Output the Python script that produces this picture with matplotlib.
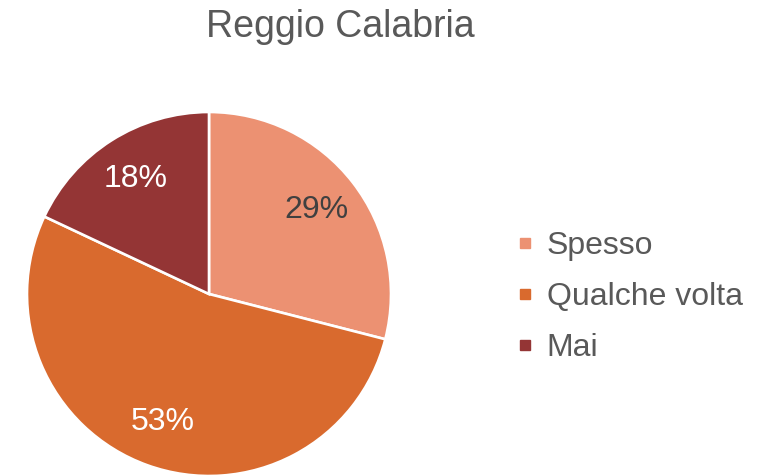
import matplotlib
matplotlib.use("Agg")
import matplotlib.pyplot as plt
from matplotlib.lines import Line2D

categories = ["Spesso", "Qualche volta", "Mai"]
values = [29, 53, 18]
colors = ["#EC9172", "#D96A2E", "#943535"]
pct_colors = ["#404040", "white", "white"]
title = "Reggio Calabria"

plt.rcParams['font.family'] = ['Liberation Sans', 'DejaVu Sans']

W, H = 763, 475
fig = plt.figure(figsize=(W / 100, H / 100), dpi=100)

cx, cy, r = 209, 294, 182
ax = fig.add_axes([(cx - r) / W, (H - cy - r) / H, 2 * r / W, 2 * r / H])
wedges, texts, autotexts = ax.pie(
    values, colors=colors, startangle=90, counterclock=False,
    autopct=lambda p: f"{p:.0f}%", pctdistance=0.75,
    wedgeprops=dict(edgecolor="white", linewidth=1.9),
    textprops=dict(fontsize=23))
for t, c in zip(autotexts, pct_colors):
    t.set_color(c)
ax.set_xlim(-1, 1)
ax.set_ylim(-1, 1)
ax.set_aspect("equal")
ax.axis("off")

fig.text(340 / W, 1 - 27 / H, title, ha="center", va="center",
         fontsize=27, color="#595959")

handles = [Line2D([], [], marker="s", linestyle="none", markersize=7.5,
                  markerfacecolor=c, markeredgecolor=c) for c in colors]
fig.legend(handles, categories, loc="center left",
           bbox_to_anchor=(518 / W, 1 - 297 / H), frameon=False,
           fontsize=23, labelcolor="#595959", handlelength=0.45,
           handletextpad=0.45, labelspacing=0.65, borderpad=0,
           borderaxespad=0)

fig.savefig("out.png", dpi=100)
